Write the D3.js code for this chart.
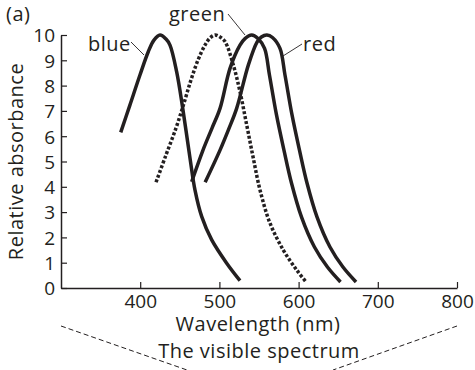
<!DOCTYPE html>
<html>
<head>
<meta charset="utf-8">
<script src="https://cdn.jsdelivr.net/npm/d3@7"></script>
<style>
  body { margin: 0; background: #fff; }
  text { font-family: "Open Sans", "Noto Sans", sans-serif; fill: #231f20; }
  .word { font-size: 20px; letter-spacing: 0.5px; }
</style>
</head>
<body>
<div class="chart"></div>
<script>
// absorbance curves: [wavelength nm, relative absorbance]
var blueCurve = [
  [375.4, 6.15], [387, 7.23], [399.7, 8.42], [410.2, 9.34], [417.4, 9.8], [425, 10],
  [432.6, 9.84], [437.6, 9.6], [446, 8.55], [453.7, 7.1], [462.9, 5.13], [469.2, 3.87],
  [477.7, 2.82], [490.3, 1.9], [509.2, 0.98], [526, 0.29]
];
var rodCurve = [
  [420, 4.18], [432.6, 5.26], [445.2, 6.32], [455.3, 7.31], [464.1, 8.22], [473, 9.01],
  [481.8, 9.6], [488.1, 9.88], [494.4, 10], [500.8, 9.92], [507.1, 9.74], [517.6, 8.81],
  [526, 7.76], [534.5, 6.44], [542.8, 5.13], [551.3, 3.87], [563.9, 2.56], [580.7, 1.5],
  [597.6, 0.71], [610.2, 0.21]
];
var greenCurve = [
  [465, 4.2], [479.3, 5.45], [490.7, 6.32], [500.8, 7.1], [513.4, 8.68], [526, 9.6],
  [532.3, 9.86], [540.8, 10], [548.7, 9.86], [557, 9.47], [563.2, 8.42], [572.1, 6.84],
  [581.5, 5.45], [591, 4.15], [603.6, 2.81], [620, 1.62], [636.4, 0.83], [652.9, 0.24]
];
var redCurve = [
  [482, 4.18], [500.8, 5.45], [512, 6.3], [521.8, 7.1], [536.5, 8.81], [547.5, 9.72],
  [553, 9.92], [560, 10], [567, 9.9], [576.5, 9.47], [582.8, 8.42], [591.7, 6.84],
  [601.1, 5.45], [610.6, 4.15], [623.2, 2.81], [639.6, 1.62], [656, 0.83], [672.5, 0.24]
];
var xTicks = [400, 500, 600, 700, 800];
var yTicks = [0, 1, 2, 3, 4, 5, 6, 7, 8, 9, 10];

var svgWidth = 475, svgHeight = 370;
var margin = { top: 35, right: 18, bottom: 82, left: 61 };
var width = svgWidth - margin.left - margin.right;
var height = svgHeight - margin.top - margin.bottom;
var ink = "#231f20";

var svg = d3.select(".chart").append("svg")
  .attr("width", svgWidth)
  .attr("height", svgHeight);

var chartGroup = svg.append("g")
  .attr("transform", `translate(${margin.left}, ${margin.top})`);

var xScale = d3.scaleLinear().domain([300, 800]).range([0, width]);
var yScale = d3.scaleLinear().domain([0, 10]).range([height, 0]);

// axes, ticks point inward
var xAxis = d3.axisBottom(xScale).tickValues(xTicks).tickSizeInner(-6).tickSizeOuter(0).tickPadding(6.5);
var yAxis = d3.axisLeft(yScale).tickValues(yTicks).tickSizeInner(-6).tickSizeOuter(0).tickPadding(6);

var gx = chartGroup.append("g")
  .attr("transform", `translate(0, ${height})`)
  .call(xAxis);
var gy = chartGroup.append("g").call(yAxis);

[gx, gy].forEach(function(g) {
  g.select(".domain").attr("stroke", ink).attr("stroke-width", 1.5);
  g.selectAll(".tick line").attr("stroke", ink).attr("stroke-width", 1.2);
  g.selectAll(".tick text")
    .attr("font-family", "Open Sans")
    .attr("font-size", "19px")
    .attr("fill", ink);
});
gx.selectAll(".tick text").attr("dy", "0.71em");
gy.selectAll(".tick text").attr("dy", "0.36em");

// curves
var line = d3.line()
  .x(d => xScale(d[0]))
  .y(d => yScale(d[1]))
  .curve(d3.curveCatmullRom.alpha(0.5));

[blueCurve, greenCurve, redCurve].forEach(function(c) {
  chartGroup.append("path")
    .datum(c)
    .attr("d", line)
    .attr("fill", "none")
    .attr("stroke", ink)
    .attr("stroke-width", 3.5);
});

chartGroup.append("path")
  .datum(rodCurve)
  .attr("d", line)
  .attr("fill", "none")
  .attr("stroke", ink)
  .attr("stroke-width", 3.5)
  .attr("stroke-dasharray", "3,2");

// curve labels with leader lines
var labels = [
  { text: "blue", x: 88, y: 51, lx1: 131, ly1: 42, lx2: 144, ly2: 55 },
  { text: "green", x: 169, y: 21, lx1: 228, ly1: 14, lx2: 245, ly2: 35 },
  { text: "red", x: 303, y: 51, lx1: 302, ly1: 44, lx2: 283, ly2: 56 }
];
labels.forEach(function(l) {
  svg.append("text")
    .attr("class", "word")
    .attr("x", l.x).attr("y", l.y)
    .text(l.text);
  svg.append("line")
    .attr("x1", l.lx1).attr("y1", l.ly1)
    .attr("x2", l.lx2).attr("y2", l.ly2)
    .attr("stroke", ink)
    .attr("stroke-width", 0.9);
});

svg.append("text")
  .attr("class", "word")
  .attr("x", 6).attr("y", 21)
  .text("(a)");

// axis titles
svg.append("text")
  .attr("class", "word")
  .attr("transform", `translate(23, ${margin.top + height / 2}) rotate(-90)`)
  .attr("text-anchor", "middle")
  .text("Relative absorbance");

svg.append("text")
  .attr("class", "word")
  .attr("x", 258)
  .attr("y", 331)
  .attr("text-anchor", "middle")
  .text("Wavelength (nm)");

// visible spectrum bracket
var spec = [[300, 187], [800, 333]];
spec.forEach(function(s) {
  svg.append("line")
    .attr("x1", margin.left + xScale(s[0])).attr("y1", 326)
    .attr("x2", s[1]).attr("y2", 370)
    .attr("stroke", ink)
    .attr("stroke-width", 1)
    .attr("stroke-dasharray", "5,3");
});

svg.append("text")
  .attr("class", "word")
  .attr("x", 259)
  .attr("y", 358)
  .attr("text-anchor", "middle")
  .text("The visible spectrum");
</script>
</body>
</html>
